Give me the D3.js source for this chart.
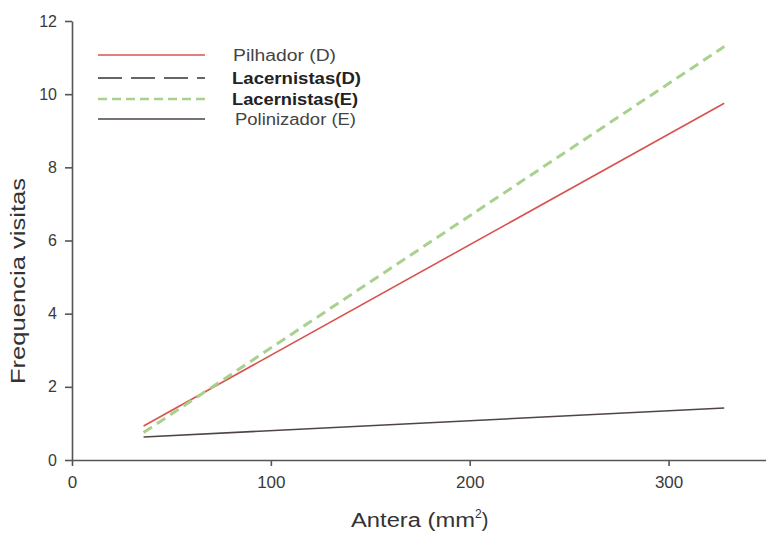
<!DOCTYPE html>
<html lang="pt">
<head>
    <meta charset="UTF-8">
    <title>Frequencia visitas x Antera</title>
    <style>
        body {
            margin: 0;
            padding: 0;
            background-color: white;
            font-family: Arial, "Liberation Sans", sans-serif;
        }
        svg {
            display: block;
        }
        .axis path,
        .axis line {
            stroke: #555;
            stroke-width: 1.6;
        }
        .axis text {
            fill: #3a3a3a;
        }
    </style>
</head>
<body>
    <svg id="chart" width="766" height="533"></svg>

    <script src="https://d3js.org/d3.v7.min.js"></script>
    <script>
        // regression lines (start and end of each line)
        const anteraX = [36, 328];
        const pilhadorD = [0.93, 9.75];
        const lacernistasE = [0.75, 11.3];
        const polinizadorE = [0.63, 1.42];

        const xTicks = [0, 100, 200, 300];
        const yTicks = [0, 2, 4, 6, 8, 10, 12];

        const legendLabels = ['Pilhador (D)', 'Lacernistas(D)', 'Lacernistas(E)', 'Polinizador (E)'];

        const svg = d3.select('#chart');

        const x = d3.scaleLinear().domain([0, 350]).range([72, 768]);
        const y = d3.scaleLinear().domain([0, 12]).range([460, 21]);

        // axes
        svg.append('g')
            .attr('class', 'axis')
            .attr('transform', 'translate(0,460)')
            .call(d3.axisBottom(x).tickValues(xTicks).tickSize(6).tickPadding(8).tickSizeOuter(0))
            .call(g => g.selectAll('text').attr('font-size', '17px').attr('dy', '0.85em'));

        svg.append('g')
            .attr('class', 'axis')
            .attr('transform', 'translate(72,0)')
            .call(d3.axisLeft(y).tickValues(yTicks).tickSize(7).tickPadding(8).tickSizeOuter(0))
            .call(g => g.selectAll('text').attr('font-size', '16px'));

        // axis titles
        svg.append('text')
            .attr('x', 351)
            .attr('y', 527)
            .attr('font-size', '20px')
            .attr('fill', '#333')
            .html('<tspan textLength="124" lengthAdjust="spacingAndGlyphs">Antera (mm</tspan><tspan dy="-9" font-size="12px">2</tspan><tspan dy="9">)</tspan>');

        svg.append('text')
            .attr('transform', 'translate(25,281) rotate(-90)')
            .attr('text-anchor', 'middle')
            .attr('font-size', '21px')
            .attr('fill', '#333')
            .attr('textLength', 206)
            .attr('lengthAdjust', 'spacingAndGlyphs')
            .text('Frequencia visitas');

        // lines
        const series = [
            { values: pilhadorD, color: '#d9534f', width: 1.6, dash: null },
            { values: lacernistasE, color: '#a9d18e', width: 3, dash: '10,6' },
            { values: polinizadorE, color: '#4f4545', width: 1.6, dash: null }
        ];

        const line = d3.line()
            .x((d, i) => x(anteraX[i]))
            .y(d => y(d));

        svg.append('g')
            .selectAll('path')
            .data(series)
            .enter()
            .append('path')
            .attr('d', d => line(d.values))
            .attr('fill', 'none')
            .attr('stroke', d => d.color)
            .attr('stroke-width', d => d.width)
            .attr('stroke-dasharray', d => d.dash);

        // legend
        const legendStyles = [
            { color: '#d9534f', width: 1.6, dash: null, bold: false, tx: 233, len: 103 },
            { color: '#3a3232', width: 1.6, dash: '24,9', bold: true, tx: 232, len: 129 },
            { color: '#a9d18e', width: 2.6, dash: '9,5', bold: true, tx: 232, len: 126 },
            { color: '#4f4545', width: 1.6, dash: null, bold: false, tx: 235, len: 121 }
        ];
        const legendY = [55, 78, 99, 119];

        const legend = svg.append('g')
            .selectAll('g')
            .data(legendLabels)
            .enter()
            .append('g')
            .attr('transform', (d, i) => `translate(0,${legendY[i]})`);

        legend.append('line')
            .attr('x1', 98)
            .attr('x2', 205)
            .attr('stroke', (d, i) => legendStyles[i].color)
            .attr('stroke-width', (d, i) => legendStyles[i].width)
            .attr('stroke-dasharray', (d, i) => legendStyles[i].dash);

        legend.append('text')
            .attr('x', (d, i) => legendStyles[i].tx)
            .attr('dy', '0.35em')
            .attr('font-size', '16px')
            .attr('font-weight', (d, i) => legendStyles[i].bold ? 'bold' : 'normal')
            .attr('fill', (d, i) => legendStyles[i].bold ? '#222' : '#444')
            .attr('textLength', (d, i) => legendStyles[i].len)
            .attr('lengthAdjust', 'spacingAndGlyphs')
            .text(d => d);
    </script>
</body>
</html>
